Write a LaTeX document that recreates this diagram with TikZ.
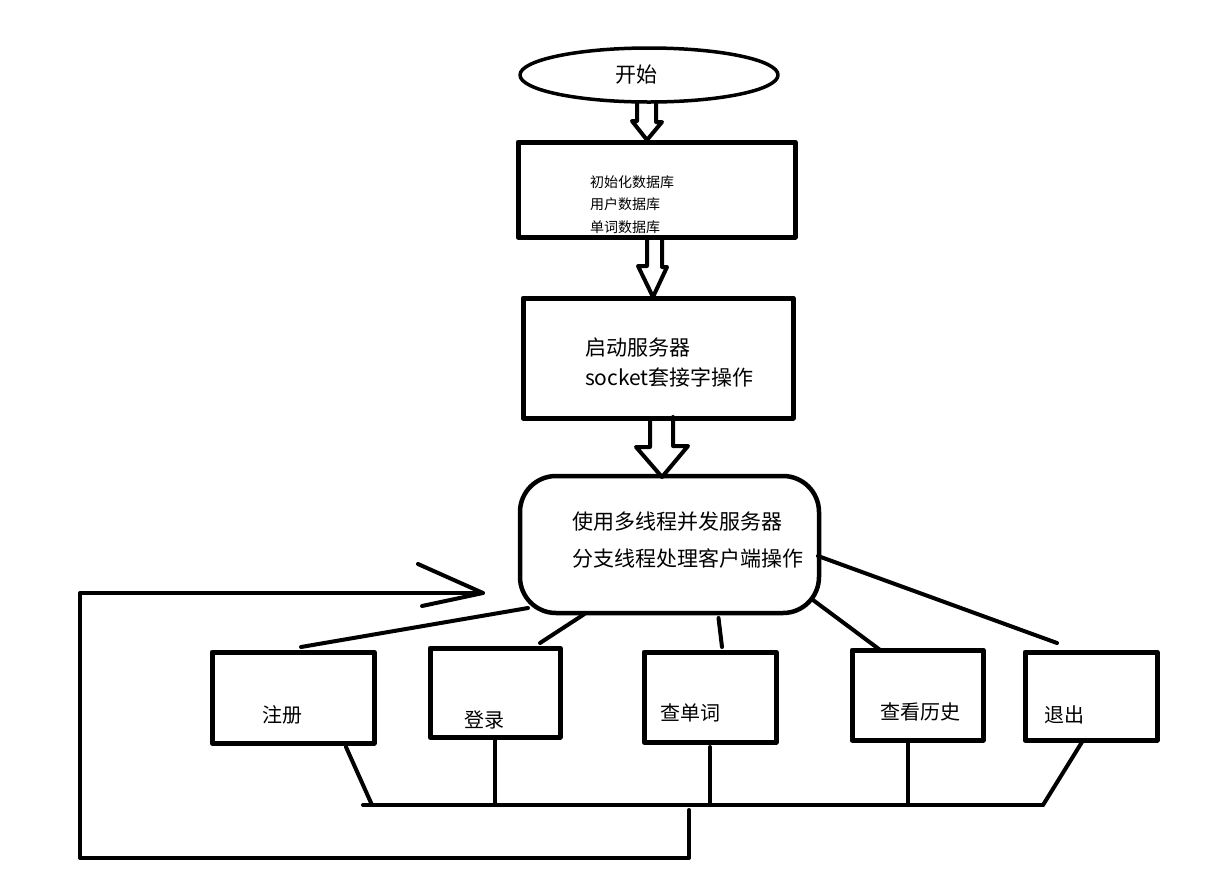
\documentclass[tikz,border=0pt]{standalone}
\usepackage{fontspec}
\setmainfont{Noto Sans CJK SC}
\usetikzlibrary{shapes.geometric, positioning, calc}

\begin{document}
\begin{tikzpicture}[
        x=1pt, y=-1pt,
        line cap=round, line join=round,
        every node/.style={outer sep=0pt},
        % frames and texts
        stepbox/.style={draw, line width=5pt, inner sep=0pt},
        bigtext/.style={font=\fontsize{21}{30}\selectfont, align=left, inner sep=0pt},
        smalltext/.style={font=\fontsize{14}{22.5}\selectfont, align=left, inner sep=0pt},
        menutext/.style={font=\fontsize{20}{24}\selectfont, inner sep=0pt},
        % connectors
        link/.style={line width=4pt},
        hollow/.style={draw, line width=4pt}
    ]
    \useasboundingbox (0,0) rectangle (1211,871);

    % main column
    \node[ellipse, draw, line width=3.5pt, minimum width=258, minimum height=54] (start) at (649,75) {};
    \node[bigtext] (starttxt) at (636,75) {开始};

    \node[stepbox, minimum width=277, minimum height=95] (initdb) at (656.5,189.5) {};
    \node[smalltext, anchor=west] (initdbtxt) at (590,204.5) {初始化数据库\\用户数据库\\单词数据库};

    \node[stepbox, minimum width=270, minimum height=120] (server) at (658,358) {};
    \node[bigtext, anchor=west] (servertxt) at (585,363) {启动服务器\\socket套接字操作};

    \node[draw, line width=4.5pt, rounded corners=36pt, minimum width=299, minimum height=137, inner sep=0pt] (thread) at (669.5,544.5) {};
    \node[bigtext, anchor=west, font=\fontsize{21}{37}\selectfont] (threadtxt) at (572,540.5) {使用多线程并发服务器\\分支线程处理客户端操作};

    % hollow arrows between the steps
    \path[hollow] (start.south) ++(-12,0) -- ++(0,19) -- ++(-5,0) -- ($(initdb.north)+(-9.5,-2)$)
        -- ++(15,-18) -- ++(-6,0) -- ++(0,-19);
    \path[hollow] (initdb.south) ++(-9.5,0) -- ++(0,29) -- ++(-9,0) -- ($(server.north)+(-5,-1)$)
        -- ++(14,-30) -- ++(-5,0) -- ++(0,-29);
    \path[hollow] (server.south) ++(-8,0) -- ++(0,29) -- ++(-14,0) -- ($(thread.north)+(-7.5,1)$)
        -- ++(26,-31) -- ++(-15,0) -- ++(0,-29);

    % menu
    \node[stepbox, minimum width=162, minimum height=91] (reg) at (293,697.5) {};
    \node[menutext] (regtxt) at (282,715) {注册};
    \node[stepbox, minimum width=130, minimum height=89] (login) at (495,692.5) {};
    \node[menutext] (logintxt) at (484,720) {登录};
    \node[stepbox, minimum width=132, minimum height=90] (query) at (710,697) {};
    \node[menutext] (querytxt) at (690,713) {查单词};
    \node[stepbox, minimum width=131, minimum height=90] (hist) at (917.5,695) {};
    \node[menutext] (histtxt) at (920,712) {查看历史};
    \node[stepbox, minimum width=132, minimum height=88] (quit) at (1091,696) {};
    \node[menutext] (quittxt) at (1064,715) {退出};

    % branches out of the server
    \draw[link] ($(thread.south west)+(8,-5)$) -- ($(reg.north)+(8,-5)$);
    \draw[link] ($(thread.south)+(-85,1)$) -- ($(login.north)+(45,-5)$);
    \draw[link] ($(thread.south)+(49,5)$) -- ($(query.north)+(12,-5)$);
    \draw[link] ($(thread.south east)+(-6,-13)$) -- ($(hist.north)+(-36,1)$);
    \draw[link] ($(thread.east)+(-1,11.5)$) -- ($(quit.north)+(-34,-9)$);

    % back to the server
    \coordinate (busL) at (363,805);
    \coordinate (busR) at (1043,805);
    \coordinate (loopTop) at (689,810);
    \coordinate (loopTip) at (483,593);
    \draw[link] (busL) -- (busR);
    \draw[link] ($(reg.south)+(53,4)$) -- ($(busL)+(9,0)$);
    \draw[link] (login.south) -- (login.south |- busL);
    \draw[link] ($(query.south)+(0,5)$) -- (query.south |- busL);
    \draw[link] ($(hist.south)+(-9.5,0)$) -- ($(hist.south |- busL)+(-9.5,0)$);
    \draw[link] ($(quit.south)+(-9,2)$) -- (busR);
    \draw[link] (loopTop) -- ++(0,48) -| (80,593) -- (loopTip);
    \draw[link] ($(loopTip)+(-65,-29)$) -- (loopTip) -- ($(loopTip)+(-61,13)$);
\end{tikzpicture}
\end{document}
